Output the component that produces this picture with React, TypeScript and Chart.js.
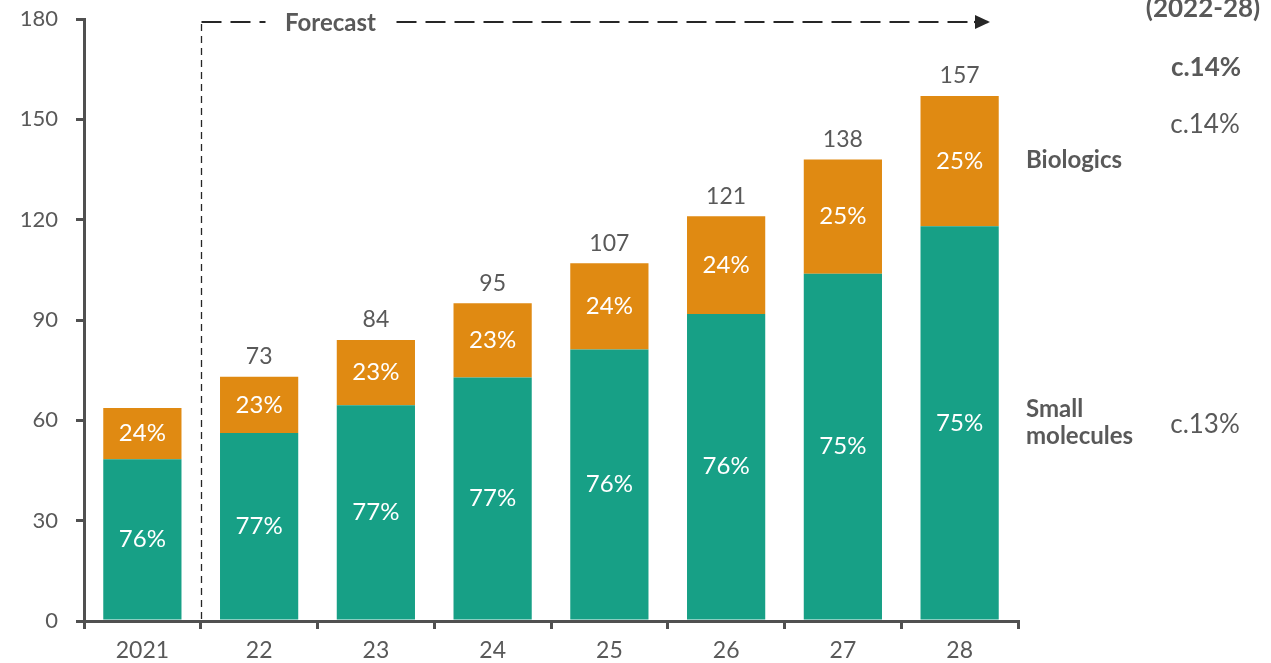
import React, { useEffect, useRef } from "react";
import { Chart, registerables } from "chart.js";

Chart.register(...registerables);

const categories = ["2021", "22", "23", "24", "25", "26", "27", "28"];
const smallMolecules = [48.4, 56.2, 64.5, 72.8, 81.2, 91.8, 103.8, 118.0];
const biologics = [15.3, 16.8, 19.5, 22.2, 25.8, 29.2, 34.2, 39.0];
const smallShare = ["76%", "77%", "77%", "77%", "76%", "76%", "75%", "75%"];
const bioShare = ["24%", "23%", "23%", "23%", "24%", "24%", "25%", "25%"];
const totalLabels = ["", "73", "84", "95", "107", "121", "138", "157"];
const yTicks = [0, 30, 60, 90, 120, 150, 180];

const GREEN = "#17A086";
const ORANGE = "#E08A12";
const GRAY = "#595959";
const FONT = "Lato, 'Open Sans', sans-serif";

const overlayPlugin = {
  id: "overlay",
  afterDatasetsDraw(chart: any) {
    const ctx = chart.ctx;
    const x = chart.scales.x;
    const area = chart.chartArea;
    ctx.save();
    const m0 = chart.getDatasetMeta(0);
    const m1 = chart.getDatasetMeta(1);
    ctx.textAlign = "center";
    ctx.textBaseline = "middle";
    ctx.font = `24px ${FONT}`;
    ctx.fillStyle = "#ffffff";
    m0.data.forEach((bar: any, i: number) => {
      ctx.fillText(smallShare[i], bar.x, (bar.y + bar.base) / 2);
    });
    m1.data.forEach((bar: any, i: number) => {
      ctx.fillText(bioShare[i], bar.x, (bar.y + bar.base) / 2);
    });
    ctx.fillStyle = GRAY;
    ctx.font = `23px ${FONT}`;
    m1.data.forEach((bar: any, i: number) => {
      if (totalLabels[i]) ctx.fillText(totalLabels[i], bar.x, bar.y - 20);
    });

    // Forecast bracket
    const vx = Math.round((x.getPixelForValue(0) + x.getPixelForValue(1)) / 2) + 0.5;
    const topY = 22;
    ctx.strokeStyle = "#262626";
    ctx.lineWidth = 1.3;
    ctx.setLineDash([7, 5]);
    ctx.beginPath();
    ctx.moveTo(vx, area.bottom - 2);
    ctx.lineTo(vx, topY);
    ctx.stroke();
    ctx.lineWidth = 2.2;
    ctx.setLineDash([20, 9]);
    ctx.beginPath();
    ctx.moveTo(vx, topY);
    ctx.lineTo(vx + 64, topY);
    ctx.stroke();
    ctx.beginPath();
    ctx.moveTo(vx + 195, topY);
    ctx.lineTo(area.right - 40, topY);
    ctx.stroke();
    ctx.setLineDash([]);
    ctx.beginPath();
    ctx.moveTo(area.right - 44, topY);
    ctx.lineTo(area.right - 30, topY);
    ctx.stroke();
    ctx.fillStyle = "#262626";
    ctx.beginPath();
    ctx.moveTo(area.right - 28, topY);
    ctx.lineTo(area.right - 43, topY - 7);
    ctx.lineTo(area.right - 43, topY + 7);
    ctx.closePath();
    ctx.fill();
    ctx.fillStyle = GRAY;
    ctx.font = `bold 24px ${FONT}`;
    ctx.textAlign = "center";
    ctx.textBaseline = "middle";
    ctx.fillText("Forecast", vx + 129, topY + 1);

    // right side annotations
    ctx.textBaseline = "alphabetic";
    ctx.textAlign = "center";
    ctx.font = `bold 26px ${FONT}`;
    ctx.fillText("(2022-28)", 1203, 17);
    ctx.fillText("c.14%", 1206, 76);
    ctx.font = `26px ${FONT}`;
    ctx.fillText("c.14%", 1205, 133);
    ctx.fillText("c.13%", 1205, 433);
    ctx.textAlign = "left";
    ctx.font = `bold 24px ${FONT}`;
    ctx.fillText("Biologics", 1026, 168);
    ctx.fillText("Small", 1026, 417);
    ctx.fillText("molecules", 1026, 444);
    ctx.restore();
  },
};

export default function App() {
  const ref = useRef<HTMLCanvasElement | null>(null);
  useEffect(() => {
    if (!ref.current) return;
    const chart = new Chart(ref.current, {
      type: "bar",
      data: {
        labels: categories,
        datasets: [
          {
            label: "Small molecules",
            data: smallMolecules,
            backgroundColor: GREEN,
            borderWidth: 0,
            barPercentage: 0.67,
            categoryPercentage: 1,
          },
          {
            label: "Biologics",
            data: biologics,
            backgroundColor: ORANGE,
            borderWidth: 0,
            barPercentage: 0.67,
            categoryPercentage: 1,
          },
        ],
      },
      options: {
        animation: false,
        responsive: true,
        maintainAspectRatio: false,
        layout: { padding: { top: 19, right: 253, left: 0, bottom: 0 } },
        plugins: { legend: { display: false }, tooltip: { enabled: false } },
        scales: {
          x: {
            stacked: true,
            afterFit: (s: any) => {
              s.height = 42;
            },
            grid: {
              offset: true,
              drawOnChartArea: false,
              drawTicks: true,
              tickLength: 8,
              color: "#505050",
              lineWidth: 3,
            },
            border: { display: true, color: "#505050", width: 3 },
            ticks: {
              color: GRAY,
              font: { family: FONT, size: 23 },
              padding: 8,
            },
          },
          y: {
            stacked: true,
            min: 0,
            max: 180,
            afterFit: (s: any) => {
              s.width = 84;
              s.paddingTop = 12;
              s.paddingBottom = 12;
            },
            afterBuildTicks: (s: any) => {
              s.ticks = yTicks.map((v) => ({ value: v }));
            },
            grid: {
              drawOnChartArea: false,
              drawTicks: true,
              tickLength: 8,
              color: "#505050",
              lineWidth: 3,
            },
            border: { display: true, color: "#505050", width: 3 },
            ticks: {
              color: GRAY,
              font: { family: FONT, size: 22 },
              padding: 18,
            },
          },
        },
      },
      plugins: [overlayPlugin],
    });
    return () => chart.destroy();
  }, []);
  return (
    <div
      style={{
        position: "absolute",
        left: 0,
        top: 0,
        width: 1271,
        height: 663,
        background: "#ffffff",
      }}
    >
      <canvas ref={ref} />
    </div>
  );
}
